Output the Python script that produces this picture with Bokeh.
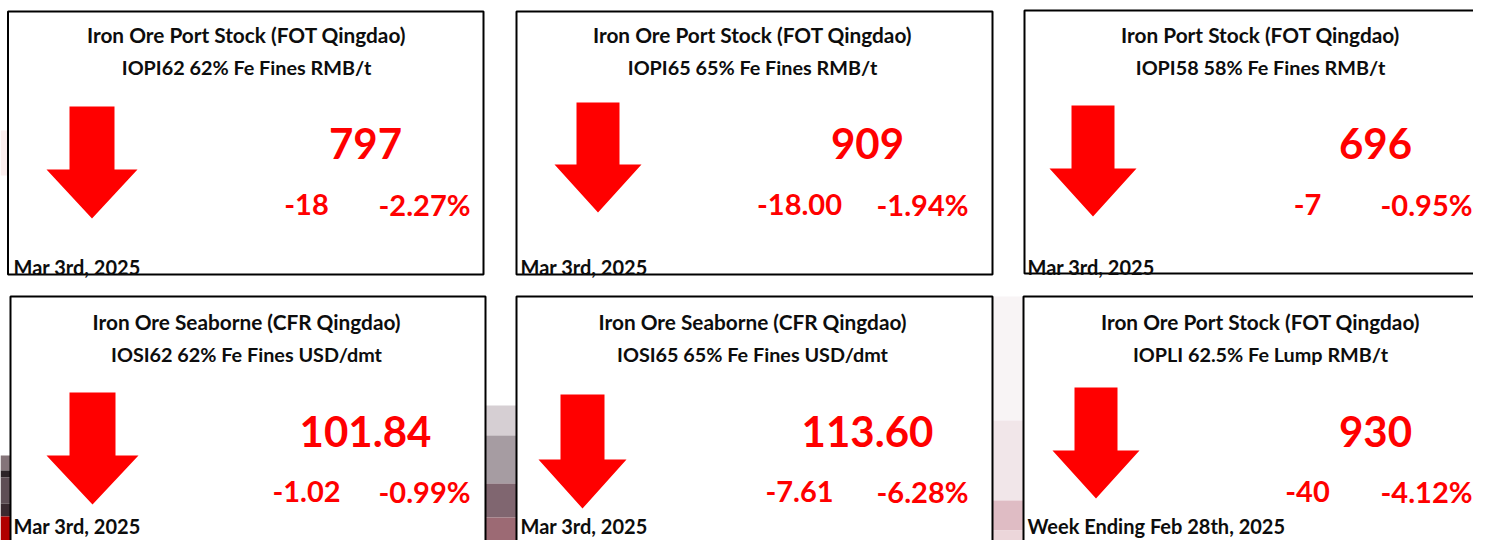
from bokeh.plotting import figure
from bokeh.models import Range1d
from bokeh.core.properties import value
from bokeh.embed import file_html
from bokeh.resources import INLINE

# ---------------- data ----------------
titles1 = ["Iron Ore Port Stock (FOT Qingdao)", "Iron Ore Port Stock (FOT Qingdao)",
           "Iron Port Stock (FOT Qingdao)", "Iron Ore Seaborne (CFR Qingdao)",
           "Iron Ore Seaborne (CFR Qingdao)", "Iron Ore Port Stock (FOT Qingdao)"]
titles2 = ["IOPI62 62% Fe Fines RMB/t", "IOPI65 65% Fe Fines RMB/t",
           "IOPI58 58% Fe Fines RMB/t", "IOSI62 62% Fe Fines USD/dmt",
           "IOSI65 65% Fe Fines USD/dmt", "IOPLI 62.5% Fe Lump RMB/t"]
prices = [797, 909, 696, 101.84, 113.60, 930]
price_decimals = [0, 0, 0, 2, 2, 0]
changes = [-18, -18.00, -7, -1.02, -7.61, -40]
change_decimals = [0, 2, 0, 2, 2, 0]
pct_changes = [-2.27, -1.94, -0.95, -0.99, -6.28, -4.12]
dates = ["Mar 3rd, 2025"] * 5 + ["Week Ending Feb 28th, 2025"]

# ---------------- layout (pixel positions of the reference page) ----------------
col_title_x = [246, 752, 1260]
col_num_x = [365, 867, 1375]
col_chg_x = [306, 799, 1307]
col_pct_x = [424, 922, 1426]
col_date_x = [13, 520, 1027]
row_t1_y = [34, 321]
row_t2_y = [66, 353]
row_num_y = [143, 431]
row_chg_y = [204, 491]
row_date_y = [266, 525]
boxes = [(7.5, 483, 11, 274), (516, 992, 11, 274), (1024, 1500, 10, 273),
         (10, 485, 296, 600), (516, 992, 296, 600), (1023, 1500, 296, 600)]
arrows = [(69, 114, 106, 46, 137, 169, 218), (576, 619, 102, 554, 641, 164, 212),
          (1071, 1114, 105, 1049, 1136, 168, 216), (69, 115, 392, 46, 138, 455, 504),
          (560, 604, 394, 538, 626, 459, 508), (1074, 1117, 387, 1052, 1139, 450, 498)]

RED = "#ff0000"
INK = "#0d0d0d"
FONT = value("Lato")

p = figure(width=1473, height=540, x_range=Range1d(0, 1473), y_range=Range1d(540, 0),
           output_backend="svg", toolbar_location=None, min_border=0)
p.axis.visible = False
p.grid.visible = False
p.outline_line_color = None
p.background_fill_color = "white"
p.border_fill_color = "white"

# faint background picture visible in the gaps
bands = [(478, 522, 405, 435, "#d6cfd3"), (478, 522, 435, 483, "#a69ca2"),
         (478, 522, 483, 517, "#806670"), (478, 522, 517, 543, "#9c6a74"),
         (478, 522, 543, 560, "#8a2228"),
         (985, 1030, 296, 420, "#f8f4f5"), (985, 1030, 420, 500, "#f1e6e9"),
         (985, 1030, 500, 530, "#dfbcc4"), (985, 1030, 530, 560, "#ecd6da"),
         (0, 14, 455, 470, "#847479"), (0, 14, 470, 477, "#2c2428"),
         (0, 14, 477, 503, "#5e4e55"), (0, 14, 503, 516, "#3a2a30"),
         (0, 14, 516, 543, "#b00000"), (0, 14, 543, 560, "#1a0a0a"),
         (0, 14, 130, 175, "#fbeeee")]
p.quad(left=[b[0] for b in bands], right=[b[1] for b in bands],
       top=[b[2] for b in bands], bottom=[b[3] for b in bands],
       fill_color=[b[4] for b in bands], line_color=None)

# panels
p.quad(left=[b[0] for b in boxes], right=[b[1] for b in boxes],
       top=[b[2] for b in boxes], bottom=[b[3] for b in boxes],
       fill_color="white", line_color="black", line_width=2)

def fmt(v, d):
    return f"{v:.{d}f}"

cols = [i % 3 for i in range(6)]
rows = [i // 3 for i in range(6)]

# titles
p.text(x=[col_title_x[c] for c in cols], y=[row_t1_y[r] for r in rows], text=titles1,
       text_font=FONT, text_font_style="bold", text_font_size="20.8px",
       text_color=INK, text_align="center", text_baseline="alphabetic")
p.text(x=[col_title_x[c] for c in cols], y=[row_t2_y[r] for r in rows], text=titles2,
       text_font=FONT, text_font_style="bold", text_font_size="19.8px",
       text_color=INK, text_align="center", text_baseline="alphabetic")

# big values
p.text(x=[col_num_x[c] for c in cols], y=[row_num_y[r] for r in rows],
       text=[fmt(v, d) for v, d in zip(prices, price_decimals)],
       text_font=FONT, text_font_style="bold", text_font_size="42px",
       text_color=RED, text_align="center", text_baseline="alphabetic")

# changes
p.text(x=[col_chg_x[c] for c in cols], y=[row_chg_y[r] for r in rows],
       text=[fmt(v, d) for v, d in zip(changes, change_decimals)],
       text_font=FONT, text_font_style="bold", text_font_size="29px",
       text_color=RED, text_align="center", text_baseline="alphabetic")
p.text(x=[col_pct_x[c] for c in cols], y=[row_chg_y[r] for r in rows],
       text=[f"{v:.2f}%" for v in pct_changes],
       text_font=FONT, text_font_style="bold", text_font_size="29px",
       text_color=RED, text_align="center", text_baseline="alphabetic")

# dates
p.text(x=[col_date_x[c] for c in cols], y=[row_date_y[r] for r in rows], text=dates,
       text_font=FONT, text_font_style="bold", text_font_size="20px",
       text_color=INK, text_align="left", text_baseline="alphabetic")

# direction arrows (down when the change is negative)
xs, ys = [], []
for a, ch in zip(arrows, changes):
    sl, sr, st, hl, hr, ht, tip = a
    tx = (hl + hr) / 2
    px = [sl, sr, sr, hr, tx, hl, sl]
    py = [st, st, ht, ht, tip, ht, ht]
    if ch > 0:
        py = [st + tip - y for y in py]
    xs.append(px)
    ys.append(py)
p.patches(xs=xs, ys=ys, fill_color=RED, line_color=None)

open("out.html", "w").write(file_html(p, INLINE))
